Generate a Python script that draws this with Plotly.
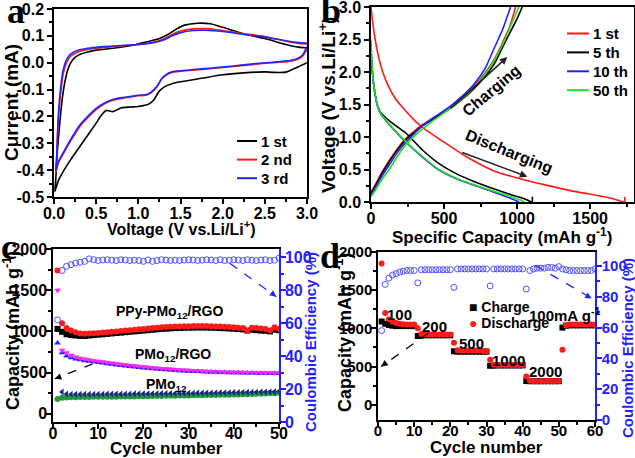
import plotly.graph_objects as go

W, H = 635, 458

# ---------------- Panel a : CV curves ----------------
cv_labels = ["1 st", "2 nd", "3 rd"]
cv1_v = [3.0, 2.9, 2.75, 2.6, 2.5, 2.25, 2.0, 1.75, 1.5, 1.4, 1.32, 1.25, 1.18, 1.12, 1.0, 0.9, 0.8, 0.7, 0.62,
         0.55, 0.5, 0.4, 0.3, 0.2, 0.1, 0.05, 0.01,
         0.02, 0.04, 0.07, 0.1, 0.13, 0.17, 0.22, 0.3, 0.4, 0.5, 0.7, 0.9, 1.1, 1.25, 1.35, 1.45, 1.55, 1.7, 1.85,
         2.0, 2.25, 2.5, 2.75, 2.9, 3.0]
cv1_i = [0.0, -0.015, -0.035, -0.036, -0.034, -0.038, -0.045, -0.058, -0.071, -0.078, -0.088, -0.105, -0.14,
         -0.155, -0.163, -0.165, -0.168, -0.182, -0.178, -0.2, -0.225, -0.27, -0.315, -0.36, -0.41, -0.44, -0.48,
         -0.44, -0.33, -0.22, -0.13, -0.07, -0.02, 0.01, 0.03, 0.04, 0.047, 0.054, 0.063, 0.078, 0.09, 0.105,
         0.125, 0.14, 0.147, 0.145, 0.132, 0.108, 0.09, 0.068, 0.058, 0.055]
cv2_v = [3.0, 2.95, 2.9, 2.8, 2.6, 2.5, 2.25, 2.0, 1.75, 1.5, 1.4, 1.35, 1.28, 1.22, 1.15, 1.1, 1.0, 0.9, 0.8,
         0.7, 0.6, 0.5, 0.4, 0.3, 0.2, 0.1, 0.05, 0.02,
         0.03, 0.05, 0.08, 0.11, 0.15, 0.2, 0.3, 0.45, 0.6, 0.8, 1.0, 1.15, 1.3, 1.4, 1.5, 1.65, 1.8, 2.0, 2.25,
         2.5, 2.75, 2.9, 3.0]
cv2_i = [0.05, 0.025, 0.014, 0.006, 0.0, -0.002, -0.01, -0.018, -0.025, -0.032, -0.036, -0.042, -0.06, -0.09,
         -0.112, -0.12, -0.123, -0.128, -0.133, -0.14, -0.153, -0.175, -0.205, -0.24, -0.29, -0.345, -0.375, -0.41,
         -0.37, -0.22, -0.11, -0.04, 0.0, 0.025, 0.042, 0.052, 0.057, 0.062, 0.068, 0.074, 0.088, 0.105, 0.118,
         0.126, 0.127, 0.12, 0.108, 0.097, 0.08, 0.072, 0.07]
cv3_v = cv2_v
cv3_i = [0.06, 0.03, 0.018, 0.008, 0.002, 0.0, -0.008, -0.016, -0.023, -0.03, -0.034, -0.04, -0.058, -0.088,
         -0.11, -0.118, -0.121, -0.126, -0.13, -0.137, -0.15, -0.17, -0.2, -0.235, -0.285, -0.34, -0.37, -0.40,
         -0.36, -0.2, -0.09, -0.025, 0.012, 0.033, 0.048, 0.056, 0.06, 0.064, 0.068, 0.073, 0.085, 0.1, 0.112,
         0.12, 0.121, 0.116, 0.105, 0.096, 0.082, 0.075, 0.073]
a_ytick_vals = [0.2, 0.1, 0.0, -0.1, -0.2, -0.3, -0.4, -0.5]
a_ytick_text = ["0.2", "0.1", "0.0", "-0.1", "-0.2", "-0.3", "-0.4", "-0.5"]

# ---------------- Panel b : charge/discharge profiles ----------------
gc_labels = ["1 st", "5 th", "10 th", "50 th"]
d1_cap = [0, 10, 25, 50, 80, 120, 170, 230, 310, 400, 500, 650, 850, 1000, 1200, 1400, 1550, 1650, 1735, 1736]
d1_v = [3.0, 2.8, 2.55, 2.25, 2.0, 1.78, 1.58, 1.42, 1.23, 1.07, 0.92, 0.7, 0.47, 0.37, 0.26, 0.16, 0.1, 0.055,
        0.0, 0.08]
c1_cap = [0, 30, 70, 125, 180, 239, 300, 352, 430, 530, 620, 700, 780, 850, 900, 950, 989]
c1_v = [0.15, 0.27, 0.44, 0.64, 0.82, 0.98, 1.1, 1.19, 1.3, 1.44, 1.6, 1.77, 1.98, 2.22, 2.45, 2.7, 3.0]
d5_cap = [0, 5, 12, 25, 45, 68, 100, 148, 239, 352, 466, 580, 700, 819, 950, 1050, 1103, 1104]
d5_v = [2.3, 2.12, 1.93, 1.7, 1.48, 1.37, 1.3, 1.21, 1.06, 0.8, 0.59, 0.44, 0.32, 0.22, 0.12, 0.05, 0.0, 0.08]
c5_cap = [0, 30, 70, 125, 180, 239, 300, 352, 430, 530, 620, 700, 780, 850, 900, 950, 1000, 1035]
c5_v = [0.13, 0.25, 0.42, 0.62, 0.8, 0.96, 1.08, 1.17, 1.28, 1.42, 1.57, 1.73, 1.93, 2.15, 2.38, 2.6, 2.82, 3.0]
d10_cap = [0, 5, 12, 25, 45, 68, 100, 148, 239, 352, 466, 580, 700, 819, 950, 1012]
d10_v = [2.4, 2.18, 1.95, 1.7, 1.47, 1.35, 1.26, 1.13, 0.92, 0.69, 0.49, 0.36, 0.26, 0.17, 0.06, 0.0]
c10_cap = [0, 30, 70, 125, 180, 239, 300, 352, 430, 530, 620, 700, 780, 840, 900, 955]
c10_v = [0.1, 0.22, 0.38, 0.57, 0.76, 0.92, 1.06, 1.17, 1.3, 1.45, 1.62, 1.8, 2.05, 2.35, 2.65, 3.0]
d50_cap = [0, 5, 12, 25, 45, 68, 100, 148, 239, 352, 466, 580, 700, 819, 950, 1000, 1051]
d50_v = [2.5, 2.2, 1.95, 1.7, 1.48, 1.36, 1.27, 1.14, 0.93, 0.7, 0.5, 0.37, 0.27, 0.18, 0.09, 0.05, 0.0]
c50_cap = [0, 30, 70, 125, 180, 239, 300, 352, 430, 530, 620, 700, 780, 850, 900, 950, 1012]
c50_v = [0.08, 0.18, 0.33, 0.5, 0.7, 0.88, 1.02, 1.12, 1.26, 1.42, 1.58, 1.75, 1.96, 2.2, 2.42, 2.68, 3.0]

# ---------------- Panel c : cycling of three electrodes ----------------
cycles_c = list(range(1, 51))
ppy_dis = [1740, 1100, 1040, 1010, 990, 975, 972, 975, 978, 980, 985, 990, 995, 1000, 1005, 1010, 1015, 1020,
           1025, 1030, 1035, 1040, 1045, 1050, 1052, 1055, 1058, 1060, 1062, 1063, 1064, 1065, 1065, 1064, 1063,
           1060, 1058, 1055, 1052, 1050, 1045, 1040, 1005, 1045, 1040, 1035, 1030, 1010, 1050, 1030]
ppy_chg = [1030, 995, 965, 955, 950, 945, 945, 950, 955, 960, 965, 970, 975, 980, 985, 990, 995, 1000, 1005,
           1010, 1015, 1020, 1025, 1030, 1033, 1036, 1040, 1042, 1044, 1045, 1046, 1047, 1047, 1046, 1045, 1043,
           1040, 1038, 1035, 1032, 1028, 1024, 1010, 1020, 1015, 1010, 1008, 1000, 1020, 1015]
ppy_ce = [62, 92, 94.5, 95.5, 96.5, 97, 97.5, 99, 98.5, 98, 98.3, 98.5, 98.2, 98, 98.5, 98.3, 98, 98.2, 98, 97.5,
          98.3, 97.5, 98, 98.5, 98.3, 98, 98.2, 98, 98.3, 98.5, 98.3, 98, 98.2, 98.5, 98.3, 98, 98.5, 98, 98.2,
          98.5, 98.3, 98, 98.5, 98.2, 98, 98.3, 98.5, 98, 98.2, 99.5]
rgo_dis = [1500, 770, 740, 710, 690, 675, 665, 655, 645, 638, 630, 622, 615, 608, 600, 594, 588, 582, 576, 570,
           565, 560, 555, 550, 546, 542, 538, 534, 530, 527, 524, 521, 518, 516, 514, 512, 510, 508, 506, 505,
           504, 503, 502, 501, 500, 499, 498, 497, 496, 495]
rgo_chg = [860, 740, 700, 680, 665, 655, 645, 638, 630, 622, 615, 607, 600, 593, 586, 580, 574, 568, 562, 557,
           552, 547, 542, 538, 534, 530, 526, 523, 520, 517, 514, 512, 510, 508, 506, 504, 502, 500, 499, 498,
           497, 496, 495, 494, 493, 492, 491, 490, 490, 490]
pmo_dis = [None, 265, 240, 238, 237, 237, 237, 237, 238, 238, 238, 239, 239, 240, 240, 241, 241, 242, 242, 243,
           243, 244, 244, 245, 246, 246, 247, 248, 248, 249, 250, 251, 251, 252, 253, 254, 255, 256, 257, 258,
           259, 260, 261, 262, 263, 264, 265, 266, 268, 270]
pmo_chg = [180, 195, 198, 200, 201, 202, 203, 204, 205, 205, 206, 207, 208, 208, 209, 210, 210, 211, 212, 213,
           214, 215, 216, 217, 218, 219, 220, 221, 222, 223, 224, 225, 226, 227, 228, 229, 230, 231, 232, 234,
           235, 237, 238, 240, 242, 244, 246, 248, 250, 255]

# ---------------- Panel d : rate capability ----------------
cycles_d = list(range(1, 61))
rate_dis = [1850, 1200, 1120, 1090, 1070, 1060, 1055, 1050, 1050, 1050, 1000, 925, 920, 920, 920, 920, 920, 920,
            920, 920, 810, 715, 710, 710, 710, 710, 710, 710, 705, 705, 590, 525, 520, 520, 520, 520, 520, 520,
            520, 520, 370, 315, 312, 310, 310, 310, 310, 310, 310, 310, 720, 1040, 1050, 1050, 1050, 1050, 1050,
            1050, 1050, 1045]
rate_chg = [1090, 1060, 1045, 1035, 1030, 1030, 1030, 1030, 1030, 1030, 900, 905, 910, 910, 910, 910, 910, 910,
            910, 910, 700, 695, 695, 695, 695, 695, 695, 695, 695, 695, 510, 512, 515, 515, 515, 515, 515, 515,
            515, 515, 310, 308, 308, 308, 308, 308, 308, 308, 308, 308, 1010, 1035, 1040, 1040, 1040, 1040, 1040,
            1040, 1040, 1040]
rate_ce = [58, 88, 92, 94, 95, 96, 96.5, 97, 97, 97, 89, 97.5, 97.5, 97.5, 97.5, 97.5, 97.5, 97.5, 97.5, 97.5,
           86, 98, 98, 98, 98, 98, 98, 98, 98, 98, 87, 98, 98, 98, 98, 98, 98, 98, 98, 98, 85, 97, 98, 98.5,
           98.5, 98.5, 99, 99, 98.5, 99.5, 98, 97.5, 97, 97, 97, 97, 97, 97, 97, 98]
rate_labels = ["100", "200", "500", "1000", "2000", "100mA g<sup>-1</sup>"]
rate_legend = ["Charge", "Discharge"]

RED = "#ff1a1a"
BLUE = "#2222ff"
CEBLUE = "#4f4fff"
GREEN = "#22dd22"
FONT = "Liberation Sans, Arial, sans-serif"
NARROW = "Liberation Sans Narrow, Arial Narrow, Liberation Sans, sans-serif"


def dx(l, r):
    return [l / W, r / W]


def dy(t, b):
    return [1 - b / H, 1 - t / H]


def px(x):
    return x / W


def py(y):
    return 1 - y / H


def f(size, color="black", family=FONT):
    return dict(family=family, size=size, color=color, weight="bold")


def axis(**kw):
    base = dict(showline=True, linecolor="black", linewidth=1.5, ticks="outside", ticklen=5, tickwidth=1.5,
                tickcolor="black", showgrid=False, zeroline=False, automargin=False, tickfont=f(16),
                ticklabeloverflow="allow")
    base.update(kw)
    return base


fig = go.Figure()

# panel a traces
a_cols = ["black", RED, BLUE]
for v, i, c, name in [(cv1_v, cv1_i, a_cols[0], cv_labels[0]), (cv2_v, cv2_i, a_cols[1], cv_labels[1]),
                      (cv3_v, cv3_i, a_cols[2], cv_labels[2])]:
    fig.add_trace(go.Scatter(x=v, y=i, mode="lines", line=dict(color=c, width=1.6, shape="spline", smoothing=0.6),
                             name=name, xaxis="x", yaxis="y", showlegend=False))

# panel b traces
b_cols = [RED, "black", BLUE, GREEN]
for dcap, dv, ccap, cv, col, name in [(d1_cap, d1_v, c1_cap, c1_v, b_cols[0], gc_labels[0]),
                                      (d5_cap, d5_v, c5_cap, c5_v, b_cols[1], gc_labels[1]),
                                      (d10_cap, d10_v, c10_cap, c10_v, b_cols[2], gc_labels[2]),
                                      (d50_cap, d50_v, c50_cap, c50_v, b_cols[3], gc_labels[3])]:
    fig.add_trace(go.Scatter(x=dcap + [None] + ccap, y=dv + [None] + cv, mode="lines",
                             line=dict(color=col, width=1.6, shape="spline", smoothing=0.6),
                             name=name, xaxis="x2", yaxis="y2", showlegend=False, connectgaps=False))

# panel c traces
ms = 6
fig.add_trace(go.Scatter(x=cycles_c, y=pmo_chg, mode="markers", marker=dict(color="#1f9a3a", size=ms, symbol="circle"),
                         xaxis="x3", yaxis="y3", showlegend=False))
fig.add_trace(go.Scatter(x=cycles_c, y=pmo_dis, mode="markers",
                         marker=dict(color="#1b2a80", size=ms, symbol="triangle-left"),
                         xaxis="x3", yaxis="y3", showlegend=False))
fig.add_trace(go.Scatter(x=cycles_c, y=rgo_chg, mode="markers", marker=dict(color=BLUE, size=ms, symbol="triangle-up"),
                         xaxis="x3", yaxis="y3", showlegend=False))
fig.add_trace(go.Scatter(x=cycles_c, y=rgo_dis, mode="markers",
                         marker=dict(color="#ff22ff", size=ms, symbol="triangle-down"),
                         xaxis="x3", yaxis="y3", showlegend=False))
fig.add_trace(go.Scatter(x=cycles_c, y=ppy_chg, mode="markers", marker=dict(color="black", size=ms, symbol="square"),
                         xaxis="x3", yaxis="y3", showlegend=False))
fig.add_trace(go.Scatter(x=cycles_c, y=ppy_dis, mode="markers", marker=dict(color=RED, size=ms, symbol="circle"),
                         xaxis="x3", yaxis="y3", showlegend=False))
fig.add_trace(go.Scatter(x=cycles_c, y=ppy_ce, mode="markers",
                         marker=dict(color="rgba(0,0,0,0)", size=ms, symbol="circle",
                                     line=dict(color=CEBLUE, width=1)),
                         xaxis="x3", yaxis="y5", showlegend=False))

# panel d traces
fig.add_trace(go.Scatter(x=cycles_d, y=rate_chg, mode="markers", name=rate_legend[0],
                         marker=dict(color="black", size=ms, symbol="square"),
                         xaxis="x4", yaxis="y4", showlegend=False))
fig.add_trace(go.Scatter(x=cycles_d, y=rate_dis, mode="markers", name=rate_legend[1],
                         marker=dict(color=RED, size=ms, symbol="circle"),
                         xaxis="x4", yaxis="y4", showlegend=False))
fig.add_trace(go.Scatter(x=cycles_d, y=rate_ce, mode="markers",
                         marker=dict(color="rgba(0,0,0,0)", size=ms, symbol="circle",
                                     line=dict(color=CEBLUE, width=1)),
                         xaxis="x4", yaxis="y6", showlegend=False))

minor = lambda d: dict(ticks="outside", ticklen=3, tickwidth=1.5, tickcolor="black", dtick=d)
bminor = lambda d: dict(ticks="outside", ticklen=3, tickwidth=1.5, tickcolor=BLUE, dtick=d)

fig.update_layout(
    width=W, height=H, margin=dict(l=0, r=0, t=0, b=0, autoexpand=False),
    plot_bgcolor="white", paper_bgcolor="white", showlegend=False,
    xaxis=axis(domain=dx(54, 307), anchor="y", range=[0, 3], dtick=0.5, tickformat=".1f", mirror=True,
               minor=minor(0.25), ticklabelstandoff=-4),
    yaxis=axis(domain=dy(9, 197), anchor="x", range=[-0.5, 0.2], tickmode="array", tickvals=a_ytick_vals,
               ticktext=a_ytick_text, mirror=True, minor=minor(0.05)),
    xaxis2=axis(domain=dx(371, 634), anchor="y2", range=[0, 1800], dtick=500, mirror=True, minor=minor(250),
                ticklabelstandoff=-4),
    yaxis2=axis(domain=dy(7, 202), anchor="x2", range=[0, 3], dtick=0.5, tickformat=".1f", mirror=True,
                minor=minor(0.25)),
    xaxis3=axis(domain=dx(53, 279), anchor="y3", range=[0, 50], dtick=10, mirror=True, minor=minor(5),
                ticklabelstandoff=-9),
    yaxis3=axis(domain=dy(249, 422), anchor="x3", range=[-100, 2000], dtick=500, minor=minor(250),
                ticklabelstandoff=-4),
    yaxis5=axis(overlaying="y3", anchor="x3", side="right", range=[0, 105], dtick=20, linecolor=BLUE,
                tickcolor=BLUE, tickfont=f(16, BLUE), minor=bminor(10), ticklabelstandoff=-4),
    xaxis4=axis(domain=dx(378, 595), anchor="y4", range=[0, 60], dtick=10, mirror=True, minor=minor(5),
                tickfont=f(15, family=NARROW), ticklabelstandoff=-9),
    yaxis4=axis(domain=dy(252, 420), anchor="x4", range=[-200, 2000], dtick=500, minor=minor(250),
                tickfont=f(15, family=NARROW), ticklabelstandoff=-4),
    yaxis6=axis(overlaying="y4", anchor="x4", side="right", range=[0, 109], dtick=20, linecolor=BLUE,
                tickcolor=BLUE, tickfont=f(15, BLUE, NARROW), minor=bminor(10), ticklabelstandoff=-3),
)

ann = []
shapes = []


def ptext(txt, x, y, size=16, color="black", angle=0, xanchor="center", family=FONT):
    ann.append(dict(text=txt, x=px(x), y=py(y), xref="paper", yref="paper", xanchor=xanchor, yanchor="middle",
                    showarrow=False, textangle=angle, font=f(size, color, family)))


def dtext(txt, x, y, xr, yr, size=16, angle=0, family=FONT):
    ann.append(dict(text=txt, x=x, y=y, xref=xr, yref=yr, showarrow=False, textangle=angle,
                    font=f(size, family=family)))


# axis titles
ptext("Voltage (V vs.Li/Li<sup>+</sup>)", 181, 228, 16)
ptext("Current (mA)", 11, 103, 19, angle=-90)
ptext("Specific Capacity (mAh g<sup>-1</sup>)", 502, 236, 17)
ptext("Voltage (V vs.Li/Li<sup>+</sup>)", 327, 105, 19, angle=-90)
ptext("Cycle number", 166, 448, 17)
ptext("Capacity (mAh g<sup>-1</sup>)", 11, 331, 18, angle=-90)
ptext("Coulombic Efficiency (%)", 310, 342, 15, color=BLUE, angle=-90)
ptext("Cycle number", 487, 447, 17, family=NARROW)
ptext("Capacity (mAh g<sup>-1</sup>)", 343, 332, 18, angle=-90, family=NARROW)
ptext("Coulombic Efficiency (%)", 627, 348, 15, color=BLUE, angle=-90)

# panel letters
for txt, x, y in [("a", 16, 11), ("b", 331, 11), ("c", 9, 247), ("d", 330, 256)]:
    ptext(txt, x, y, 36, family="Liberation Serif, Times New Roman, serif")

# legend of panel a (line keys + labels)
for k, (lab, col) in enumerate(zip(cv_labels, a_cols)):
    yy = 141 + 18.6 * k
    shapes.append(dict(type="line", xref="paper", yref="paper", x0=px(237), x1=px(257), y0=py(yy), y1=py(yy),
                       line=dict(color=col, width=2)))
    ptext(lab, 259, yy, 15, xanchor="left")
# legend of panel b
for k, (lab, col) in enumerate(zip(gc_labels, b_cols)):
    yy = 33.5 + 18.9 * k
    shapes.append(dict(type="line", xref="paper", yref="paper", x0=px(567), x1=px(589), y0=py(yy), y1=py(yy),
                       line=dict(color=col, width=2)))
    ptext(lab, 591, yy, 15, xanchor="left")
# legend of panel d
for k, (lab, col, sym) in enumerate(zip(rate_legend, ["black", RED], ["\u25a0", "\u25cf"])):
    yy = 306.5 + 16.8 * k
    ptext(f"<span style='color:{col}'>{sym}</span> {lab}", 467, yy, 14, xanchor="left", family=NARROW)

# panel b text and arrows
dtext("Charging", 823, 1.72, "x2", "y2", 16, angle=-40)
ann.append(dict(x=933, y=2.23, ax=535, ay=1.42, xref="x2", yref="y2", axref="x2", ayref="y2", showarrow=True,
                arrowhead=2, arrowsize=1, arrowwidth=1.5, arrowcolor="#222", text=""))
dtext("Discharging", 945, 0.78, "x2", "y2", 16, angle=22)
ann.append(dict(x=1070, y=0.39, ax=614, ay=0.77, xref="x2", yref="y2", axref="x2", ayref="y2", showarrow=True,
                arrowhead=2, arrowsize=1, arrowwidth=1.5, arrowcolor="#222", text=""))

# panel c labels
dtext("PPy-PMo<sub>12</sub>/RGO", 25.8, 1235, "x3", "y3", 14)
dtext("PMo<sub>12</sub>/RGO", 26.5, 708, "x3", "y3", 14)
dtext("PMo<sub>12</sub>", 25.1, 350, "x3", "y3", 14)

# panel d labels
for txt, x, y in zip(rate_labels, [6.0, 15.7, 25.9, 36.0, 46.2, 51.6], [1180, 1021, 804, 574, 434, 1182]):
    dtext(txt, x, y, "x4", "y4", 15, family=NARROW)

# arrowheads for dashed arrows
ann.append(dict(x=0.4, y=425, ax=1.9, ay=455, xref="x3", yref="y3", axref="x3", ayref="y3", showarrow=True,
                arrowhead=2, arrowsize=1, arrowwidth=1.3, arrowcolor="black", text=""))
ann.append(dict(x=49.4, y=76, ax=48.0, ay=79, xref="x3", yref="y5", axref="x3", ayref="y5", showarrow=True,
                arrowhead=2, arrowsize=1, arrowwidth=1.3, arrowcolor=BLUE, text=""))
ann.append(dict(x=0.9, y=500, ax=2.6, ay=560, xref="x4", yref="y4", axref="x4", ayref="y4", showarrow=True,
                arrowhead=2, arrowsize=1, arrowwidth=1.3, arrowcolor="black", text=""))
ann.append(dict(x=59.1, y=78.9, ax=57.5, ay=81.0, xref="x4", yref="y6", axref="x4", ayref="y6", showarrow=True,
                arrowhead=2, arrowsize=1, arrowwidth=1.3, arrowcolor=BLUE, text=""))

shapes += [
    dict(type="line", x0=8.85, y0=607, x1=0.4, y1=425, xref="x3", yref="y3",
         line=dict(color="black", width=1.3, dash="dash")),
    dict(type="line", x0=39.1, y0=96.3, x1=49.4, y1=76, xref="x3", yref="y5",
         line=dict(color=BLUE, width=1.3, dash="dash")),
    dict(type="line", x0=13.85, y0=935, x1=0.9, y1=500, xref="x4", yref="y4",
         line=dict(color="black", width=1.3, dash="dash")),
    dict(type="line", x0=43.4, y0=100.4, x1=59.1, y1=78.9, xref="x4", yref="y6",
         line=dict(color=BLUE, width=1.3, dash="dash")),
]
fig.update_layout(annotations=ann, shapes=shapes)

fig.write_html("out.html", config={"displayModeBar": False},
               post_script="document.body.style.margin='0px';")
